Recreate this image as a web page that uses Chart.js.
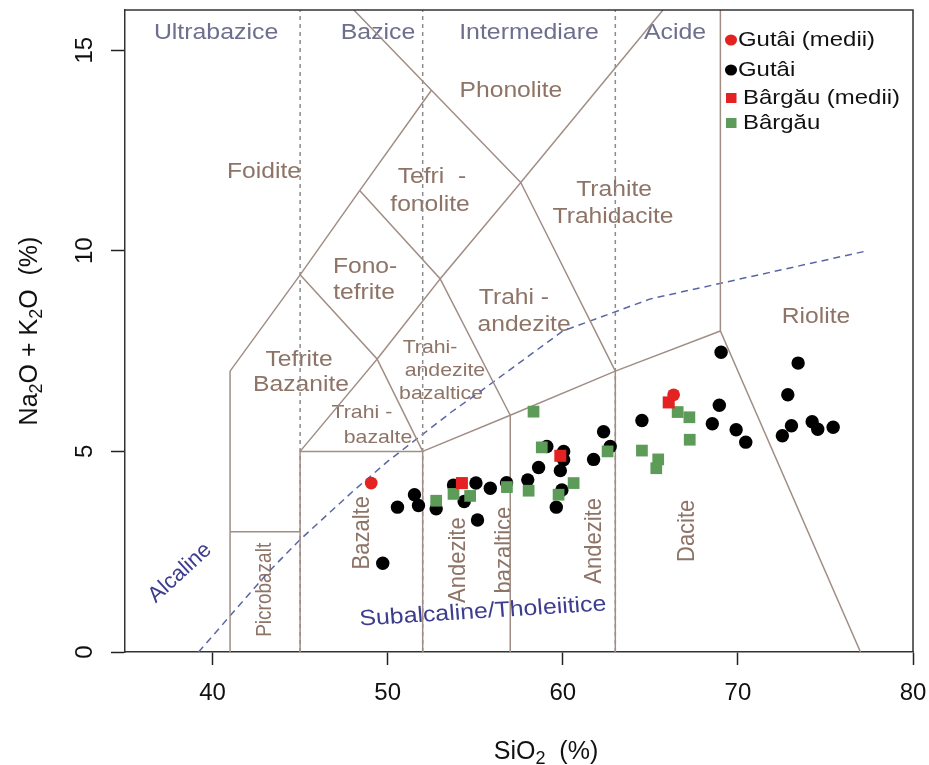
<!DOCTYPE html>
<html><head><meta charset="utf-8">
<script src="https://cdn.jsdelivr.net/npm/chart.js@4.4.1/dist/chart.umd.min.js"></script>
<style>html,body{margin:0;padding:0;background:#fff}#wrap{width:929px;height:765px}</style>
</head><body><div id="wrap"><canvas id="c" width="929" height="765"></canvas></div>
<script>
// ---- axis ticks ----
const xTicks = [40, 50, 60, 70, 80];
const yTicks = [0, 5, 10, 15];

// ---- sample series (SiO2, Na2O+K2O) ----
const gutaiMedii = [[49.06, 4.21], [66.33, 6.41]];
const gutai = [
  [49.72, 2.21], [50.56, 3.61], [51.53, 3.92], [51.76, 3.65], [52.77, 3.57], [53.76, 4.16],
  [54.37, 3.75], [55.04, 4.21], [55.13, 3.29], [55.86, 4.08], [56.79, 4.22], [58.0, 4.29],
  [58.62, 4.6], [59.09, 5.12], [60.05, 5.0], [60.05, 4.79], [59.86, 4.52], [59.95, 4.04],
  [59.63, 3.61], [61.76, 4.8], [62.33, 5.49], [62.71, 5.12], [64.52, 5.77], [68.54, 5.69],
  [68.94, 6.15], [69.04, 7.47], [69.9, 5.54], [70.45, 5.23], [72.54, 5.39], [72.85, 6.41],
  [73.06, 5.64], [73.44, 7.2], [74.24, 5.74], [74.56, 5.55], [75.44, 5.6]
];
const bargauMedii = [[54.24, 4.21], [59.86, 4.89], [66.05, 6.22]];
const bargau = [
  [52.77, 3.77], [53.76, 3.94], [54.71, 3.89], [56.81, 4.11], [58.05, 4.02], [58.33, 5.99],
  [58.8, 5.1], [59.76, 3.92], [60.62, 4.21], [62.56, 5.0], [64.52, 5.02], [65.45, 4.8],
  [65.34, 4.58], [66.56, 5.98], [67.23, 5.85], [67.25, 5.29]
];
const seriesNames = ['Gutâi (medii)', 'Gutâi', 'Bârgău (medii)', 'Bârgău'];

// ---- TAS field boundaries (Le Bas et al. 1986) ----
const fieldLines = [
  [[41, 0], [41, 7], [45, 9.4], [48.4, 11.5], [52.5, 14]],
  [[41, 3], [45, 3]],
  [[45, 0], [45, 5], [52, 5], [52, 0]],
  [[52, 5], [57, 5.9], [63, 7], [69, 8], [77, 0]],
  [[57, 0], [57, 5.9]],
  [[63, 0], [63, 7]],
  [[69, 8], [69, 16]],
  [[45, 5], [49.4, 7.3], [52, 5]],
  [[45, 9.4], [49.4, 7.3], [53, 9.3], [57, 5.9]],
  [[48.4, 11.5], [53, 9.3], [57.6, 11.7], [63, 7]],
  [[48.07, 16], [52.5, 14], [57.6, 11.7]],
  [[57.6, 11.7], [65.72, 16]]
];
const silicaDivisions = [[[45, 0], [45, 16]], [[52, 0], [52, 16]], [[63, 0], [63, 16]]];
// Irvine & Baragar (1971) alkaline / subalkaline divide
const alkalineDivide = [[39.2, 0], [40, 0.4], [43.2, 2], [45, 2.8], [48, 4], [50, 4.75], [53.7, 6], [55, 6.4], [60, 8], [65, 8.8], [77.4, 10]];

// ---- labels (text, SiO2, alkali, kind) ----
const categoryLabels = [
  ['Ultrabazice', 40.2, 15.43], ['Bazice', 49.45, 15.43], ['Intermediare', 58.07, 15.43], ['Acide', 66.41, 15.43]
];
const fieldLabels = [
  ['Foidite', 42.94, 11.96, 'big'], ['Phonolite', 57.04, 13.98, 'big'],
  ['Tefri  -', 52.53, 11.84, 'big'], ['fonolite', 52.42, 11.14, 'big'],
  ['Trahite', 62.93, 11.51, 'big'], ['Trahidacite', 62.87, 10.84, 'big'],
  ['Fono-', 48.71, 9.6, 'big'], ['tefrite', 48.65, 8.95, 'big'],
  ['Tefrite', 44.94, 7.28, 'big'], ['Bazanite', 45.05, 6.65, 'big'],
  ['Trahi -', 48.53, 5.96, 'small'], ['bazalte', 49.45, 5.33, 'small'],
  ['Trahi-', 52.42, 7.58, 'small'], ['andezite', 53.27, 7.0, 'small'], ['bazaltice', 53.05, 6.43, 'small'],
  ['Trahi -', 57.21, 8.82, 'big'], ['andezite', 57.79, 8.15, 'big'],
  ['Riolite', 74.46, 8.35, 'big'],
  ['Bazalte', 48.53, 2.97, 'vert'], ['Picrobazalt', 43.0, 1.55, 'vertSmall'],
  ['Andezite', 54.02, 2.29, 'vert'], ['bazaltice', 56.64, 2.54, 'vert'],
  ['Andezite', 61.78, 2.77, 'vert'], ['Dacite', 67.09, 3.02, 'vert']
];
const seriesLabels = [
  ['Alcaline', 38.14, 1.97, 'alk'], ['Subalcaline/Tholeiitice', 55.44, 1.0, 'subalk']
];

// ---- styles ----
const FONT = '"Liberation Sans", Arial, Helvetica, sans-serif';
const LINE_COL = '#a08e85';
const FIELD_TXT = '#8d7467';
const CAT_TXT = '#6e6e8e';
const SERIES_TXT = '#3d3d8f';
const RED = '#e42222';
const GREEN = '#5d9c58';
const labelStyles = {
  big: {size: 22, rot: 0, sx: 1.12, color: FIELD_TXT},
  small: {size: 19, rot: 0, sx: 1.12, color: FIELD_TXT},
  vert: {size: 22, rot: -90, sx: 1.12, color: FIELD_TXT},
  vertSmall: {size: 19, rot: -90, sx: 1.12, color: FIELD_TXT},
  alk: {size: 22, rot: -42.6, sx: 1.0, color: SERIES_TXT},
  subalk: {size: 22, rot: -4, sx: 1.13, color: SERIES_TXT},
  cat: {size: 22, rot: 0, sx: 1.13, color: CAT_TXT}
};

const toXY = arr => arr.map(([x, y]) => ({x, y}));
const lineDs = (pts, color, dash, width) => ({
  data: toXY(pts), showLine: true, pointRadius: 0, borderColor: color, borderWidth: width,
  borderDash: dash, fill: false, tension: 0, order: 20
});

const datasets = [];
fieldLines.forEach(p => datasets.push(lineDs(p, LINE_COL, [], 1.5)));
silicaDivisions.forEach(p => datasets.push(lineDs(p, '#8c8c8c', [4, 4], 1.5)));
datasets.push(lineDs(alkalineDivide, '#5a66a3', [7, 5], 1.5));
datasets.push({label: seriesNames[1], data: toXY(gutai), pointStyle: 'circle', pointRadius: 6.7, backgroundColor: '#000', borderWidth: 0, order: 4});
datasets.push({label: seriesNames[3], data: toXY(bargau), pointStyle: 'rect', pointRadius: 8.3, backgroundColor: GREEN, borderWidth: 0, order: 3});
datasets.push({label: seriesNames[2], data: toXY(bargauMedii), pointStyle: 'rect', pointRadius: 8.5, backgroundColor: RED, borderWidth: 0, order: 2});
datasets.push({label: seriesNames[0], data: toXY(gutaiMedii), pointStyle: 'circle', pointRadius: 6.4, backgroundColor: RED, borderWidth: 0, order: 1});

function drawText(ctx, text, px, py, st) {
  ctx.save();
  ctx.translate(px, py);
  ctx.scale(st.sx || 1, 1);
  ctx.rotate(st.rot * Math.PI / 180);
  ctx.font = st.size + 'px ' + FONT;
  ctx.fillStyle = st.color;
  ctx.textAlign = 'center';
  ctx.textBaseline = 'middle';
  ctx.fillText(text, 0, 0);
  ctx.restore();
}
function drawSubText(ctx, parts, cx, cy, size, rot) {
  ctx.save();
  ctx.translate(cx, cy);
  ctx.rotate(rot);
  ctx.fillStyle = '#111';
  ctx.textBaseline = 'middle';
  let total = 0;
  parts.forEach(([t, sub]) => { ctx.font = (sub ? size * 0.72 : size) + 'px ' + FONT; total += ctx.measureText(t).width; });
  let x = -total / 2;
  parts.forEach(([t, sub]) => {
    ctx.font = (sub ? size * 0.72 : size) + 'px ' + FONT;
    ctx.textAlign = 'left';
    ctx.fillText(t, x, sub ? size * 0.28 : 0);
    x += ctx.measureText(t).width;
  });
  ctx.restore();
}

const overlay = {
  id: 'overlay',
  beforeDatasetsDraw(chart) {
    const ctx = chart.ctx, xs = chart.scales.x, ys = chart.scales.y;
    categoryLabels.forEach(([t, x, y]) => drawText(ctx, t, xs.getPixelForValue(x), ys.getPixelForValue(y), labelStyles.cat));
    fieldLabels.forEach(([t, x, y, k]) => drawText(ctx, t, xs.getPixelForValue(x), ys.getPixelForValue(y), labelStyles[k]));
    seriesLabels.forEach(([t, x, y, k]) => drawText(ctx, t, xs.getPixelForValue(x), ys.getPixelForValue(y), labelStyles[k]));
  },
  afterDraw(chart) {
    const ctx = chart.ctx, ca = chart.chartArea;
    // plot frame (top / right)
    ctx.save();
    ctx.strokeStyle = '#333'; ctx.lineWidth = 1.5;
    ctx.beginPath();
    ctx.moveTo(ca.left, ca.top); ctx.lineTo(ca.right, ca.top); ctx.lineTo(ca.right, ca.bottom);
    ctx.stroke();
    ctx.restore();
    // axis titles
    drawSubText(ctx, [['SiO', 0], ['2', 1], ['  (%)', 0]], ca.left + 421, 752, 25, 0);
    drawSubText(ctx, [['Na', 0], ['2', 1], ['O + K', 0], ['2', 1], ['O  (%)', 0]], 30, (ca.top + ca.bottom) / 2, 25, -Math.PI / 2);
    // legend
    const lx = ca.right - 184;
    const rows = [
      {y: ca.top + 30, style: 'circle', color: RED, r: 5.5, tx: lx + 9},
      {y: ca.top + 60, style: 'circle', color: '#000', r: 5.5, tx: lx + 9},
      {y: ca.top + 88, style: 'rect', color: RED, r: 5, tx: lx + 14},
      {y: ca.top + 113, style: 'rect', color: GREEN, r: 5, tx: lx + 14}
    ];
    rows.forEach((row, i) => {
      ctx.save();
      ctx.fillStyle = row.color;
      if (row.style === 'circle') {
        ctx.beginPath(); ctx.ellipse(lx + 2, row.y, row.r * 1.1, row.r, 0, 0, Math.PI * 2); ctx.fill();
      } else {
        ctx.fillRect(lx + 2 - row.r, row.y - row.r, row.r * 2.1, row.r * 2);
      }
      ctx.translate(row.tx, row.y);
      ctx.scale(1.14, 1);
      ctx.font = '21px ' + FONT;
      ctx.fillStyle = '#111';
      ctx.textAlign = 'left';
      ctx.textBaseline = 'middle';
      ctx.fillText(seriesNames[i], 0, 0);
      ctx.restore();
    });
  }
};

const noPad = s => { s.paddingTop = 0; s.paddingBottom = 0; s.paddingLeft = 0; s.paddingRight = 0; };

new Chart(document.getElementById('c'), {
  type: 'scatter',
  data: {datasets},
  options: {
    responsive: false,
    devicePixelRatio: 1,
    animation: false,
    events: [],
    layout: {padding: {top: 10, right: 16, left: 0, bottom: 0}},
    plugins: {legend: {display: false}, tooltip: {enabled: false}},
    scales: {
      x: {
        type: 'linear', min: 35, max: 80,
        afterBuildTicks: s => { s.ticks = xTicks.map(v => ({value: v})); },
        afterFit: s => { s.height = 113; noPad(s); },
        grid: {drawOnChartArea: false, drawTicks: true, tickLength: 13, color: '#222', tickWidth: 1.5},
        border: {display: true, color: '#333', width: 1.5},
        ticks: {color: '#111', font: {family: FONT, size: 24}, padding: 14, maxRotation: 0, autoSkip: false}
      },
      y: {
        type: 'linear', min: 0, max: 16,
        afterBuildTicks: s => { s.ticks = yTicks.map(v => ({value: v})); },
        afterFit: s => { s.width = 125; noPad(s); },
        grid: {drawOnChartArea: false, drawTicks: true, tickLength: 14, color: '#222', tickWidth: 1.5},
        border: {display: true, color: '#333', width: 1.5},
        ticks: {color: '#111', font: {family: FONT, size: 24}, padding: 12, minRotation: 90, maxRotation: 90, crossAlign: 'center', autoSkip: false}
      }
    }
  },
  plugins: [overlay]
});
</script></body></html>
